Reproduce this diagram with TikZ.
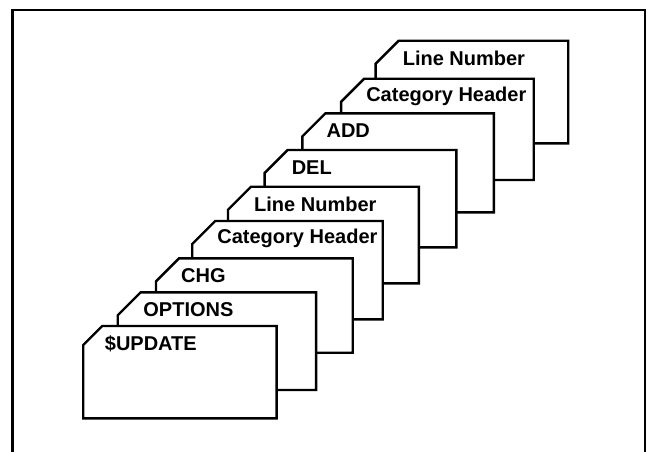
\documentclass[tikz,border=0pt]{standalone}
\usepackage{fontspec}
\setmainfont{Liberation Sans}
\begin{document}
\begin{tikzpicture}[x=1pt,y=-1pt,
  cardline/.style={draw=black,fill=white,line width=2.4pt,line join=miter},
  cardlabel/.style={anchor=west,inner sep=0pt,font=\fontsize{20}{22}\selectfont\bfseries},
  frameline/.style={draw=black,line width=2.4pt}]
\useasboundingbox (0,0) rectangle (649,451);
\draw[frameline] (12.5,470) -- (12.5,10) -- (645,10) -- (645,470);
\foreach \L/\T/\R/\B/\c/\off/\txt/\nm in {
  375.6/40.7/568.2/143.3/23/27/Line\ Number/ln2,
  341.1/78.7/533.7/180/23/25/Category\ Header/ch2,
  302.4/113.3/493.8/212.3/23/24/ADD/add,
  264.6/150/456.3/247.3/23/27/DEL/del,
  228/186.7/418.9/283.3/23/26/Line\ Number/ln1,
  192.2/221/382.7/319.3/23/25/Category\ Header/ch1,
  156/258.3/352.7/352.7/23/25/CHG/chg,
  117.7/292.3/316.1/390/23/25.5/OPTIONS/opt,
  83.2/326/276.6/418.3/19/21.5/\$UPDATE/upd}{
  \draw[cardline] (\L+\c,\T) -- (\R,\T) -- (\R,\B) -- (\L,\B) -- (\L,\T+\c) -- cycle;
  \node[cardlabel] (\nm) at (\L+\off,\T+17.5) {\txt};
}
\end{tikzpicture}
\end{document}
